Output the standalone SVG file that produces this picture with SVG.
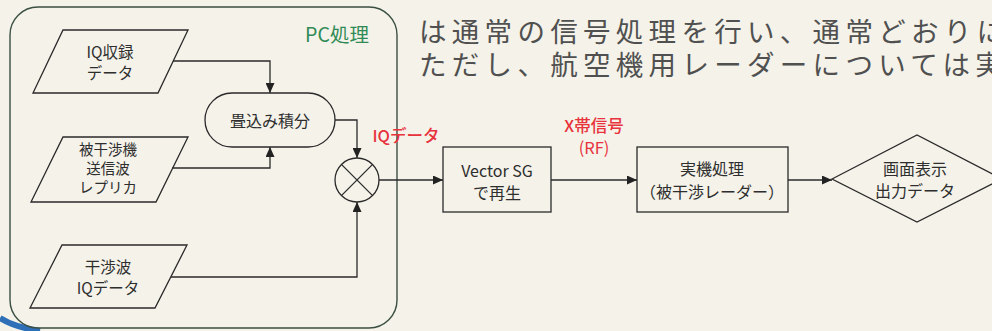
<svg xmlns="http://www.w3.org/2000/svg" width="992" height="331" viewBox="0 0 992 331">
<defs>
<marker id="ah" markerWidth="11" markerHeight="9" refX="10" refY="4.5" orient="auto" markerUnits="userSpaceOnUse">
<path d="M0,0 L10,4.5 L0,9 z" fill="#222"/>
</marker>
<style>
.bg{fill:#f4f2e9}
.shape{fill:none;stroke:#2a2a2a;stroke-width:1.3}
.pc{fill:none;stroke:#3b4f42;stroke-width:1.4}
.conn{fill:none;stroke:#2a2a2a;stroke-width:1.3;marker-end:url(#ah)}
.t{font-family:"Noto Sans CJK JP","Noto Sans",sans-serif;font-size:16px;fill:#2e2e2e;text-anchor:middle;dominant-baseline:central}
.s{font-size:14.5px}
.m{font-size:15.5px}
.red{fill:#e8323c;font-weight:500;font-size:16.5px}
.green{fill:#2f8a55;font-size:19.5px;font-weight:400}
.body{font-family:"Noto Sans CJK JP",sans-serif;font-size:27.5px;fill:#505050;font-weight:400;letter-spacing:5.3px;dominant-baseline:central}
</style>
</defs>
<rect class="bg" x="0" y="0" width="992" height="331"/>
<g id="bodytext">
<text class="body" x="419" y="30">は通常の信号処理を行い、通常どおりに</text>
<text class="body" x="419" y="63">ただし、航空機用レーダーについては実</text>
</g>
<path d="M0,318 Q14,327 40,331" fill="none" stroke="#2f6fb8" stroke-width="6"/>
<g id="pc-frame">
<rect class="pc" x="10" y="7" width="387" height="321" rx="28" ry="28"/>
<text class="t green" x="337" y="33">PC処理</text>
</g>
<g id="connectors">
<path class="conn" d="M173,61 H270 V93"/>
<path class="conn" d="M172,168 H270 V147"/>
<path class="conn" d="M335,120 H357 V158"/>
<path class="conn" d="M171,277 H357 V202"/>
<path class="conn" d="M379,180 H443"/>
<path class="conn" d="M551,180 H637"/>
<path class="conn" d="M788,180 H832"/>
</g>
<g id="iq-rec">
<polygon class="shape" points="63,30 188,30 158,93 33,93"/>
<text class="t m" x="110" y="51">IQ収録</text>
<text class="t m" x="110" y="72">データ</text>
</g>
<g id="replica">
<polygon class="shape" points="63,137 188,137 156,202 31,202"/>
<text class="t s" x="108" y="148">被干渉機</text>
<text class="t s" x="108" y="167">送信波</text>
<text class="t s" x="108" y="186">レプリカ</text>
</g>
<g id="interference">
<polygon class="shape" points="62,245 187,245 155,308 30,308"/>
<text class="t m" x="108" y="266">干渉波</text>
<text class="t m" x="108" y="287">IQデータ</text>
</g>
<g id="conv">
<rect class="shape" x="205" y="93" width="130" height="54" rx="27" ry="27"/>
<text class="t" x="270" y="120">畳込み積分</text>
</g>
<g id="mixer">
<circle class="shape" cx="357" cy="180" r="22"/>
<path class="shape" d="M341.4,164.4 L372.6,195.6 M372.6,164.4 L341.4,195.6"/>
</g>
<g id="label-iq">
<text class="t red" x="406" y="135">IQデータ</text>
</g>
<g id="label-x">
<text class="t red" x="594" y="125">X帯信号</text>
<text class="t red" x="594" y="147" style="font-weight:normal">(RF)</text>
</g>
<g id="vsg">
<rect class="shape" x="443" y="147" width="108" height="65"/>
<text class="t" x="497" y="170">Vector SG</text>
<text class="t" x="497" y="192">で再生</text>
</g>
<g id="radar">
<rect class="shape" x="637" y="147" width="151" height="65"/>
<text class="t" x="712" y="168">実機処理</text>
<text class="t" x="712" y="191">（被干渉レーダー）</text>
</g>
<g id="display">
<polygon class="shape" points="832,179 917,135 1002,179 917,222"/>
<text class="t" x="915" y="168">画面表示</text>
<text class="t" x="915" y="190">出力データ</text>
</g>
</svg>
